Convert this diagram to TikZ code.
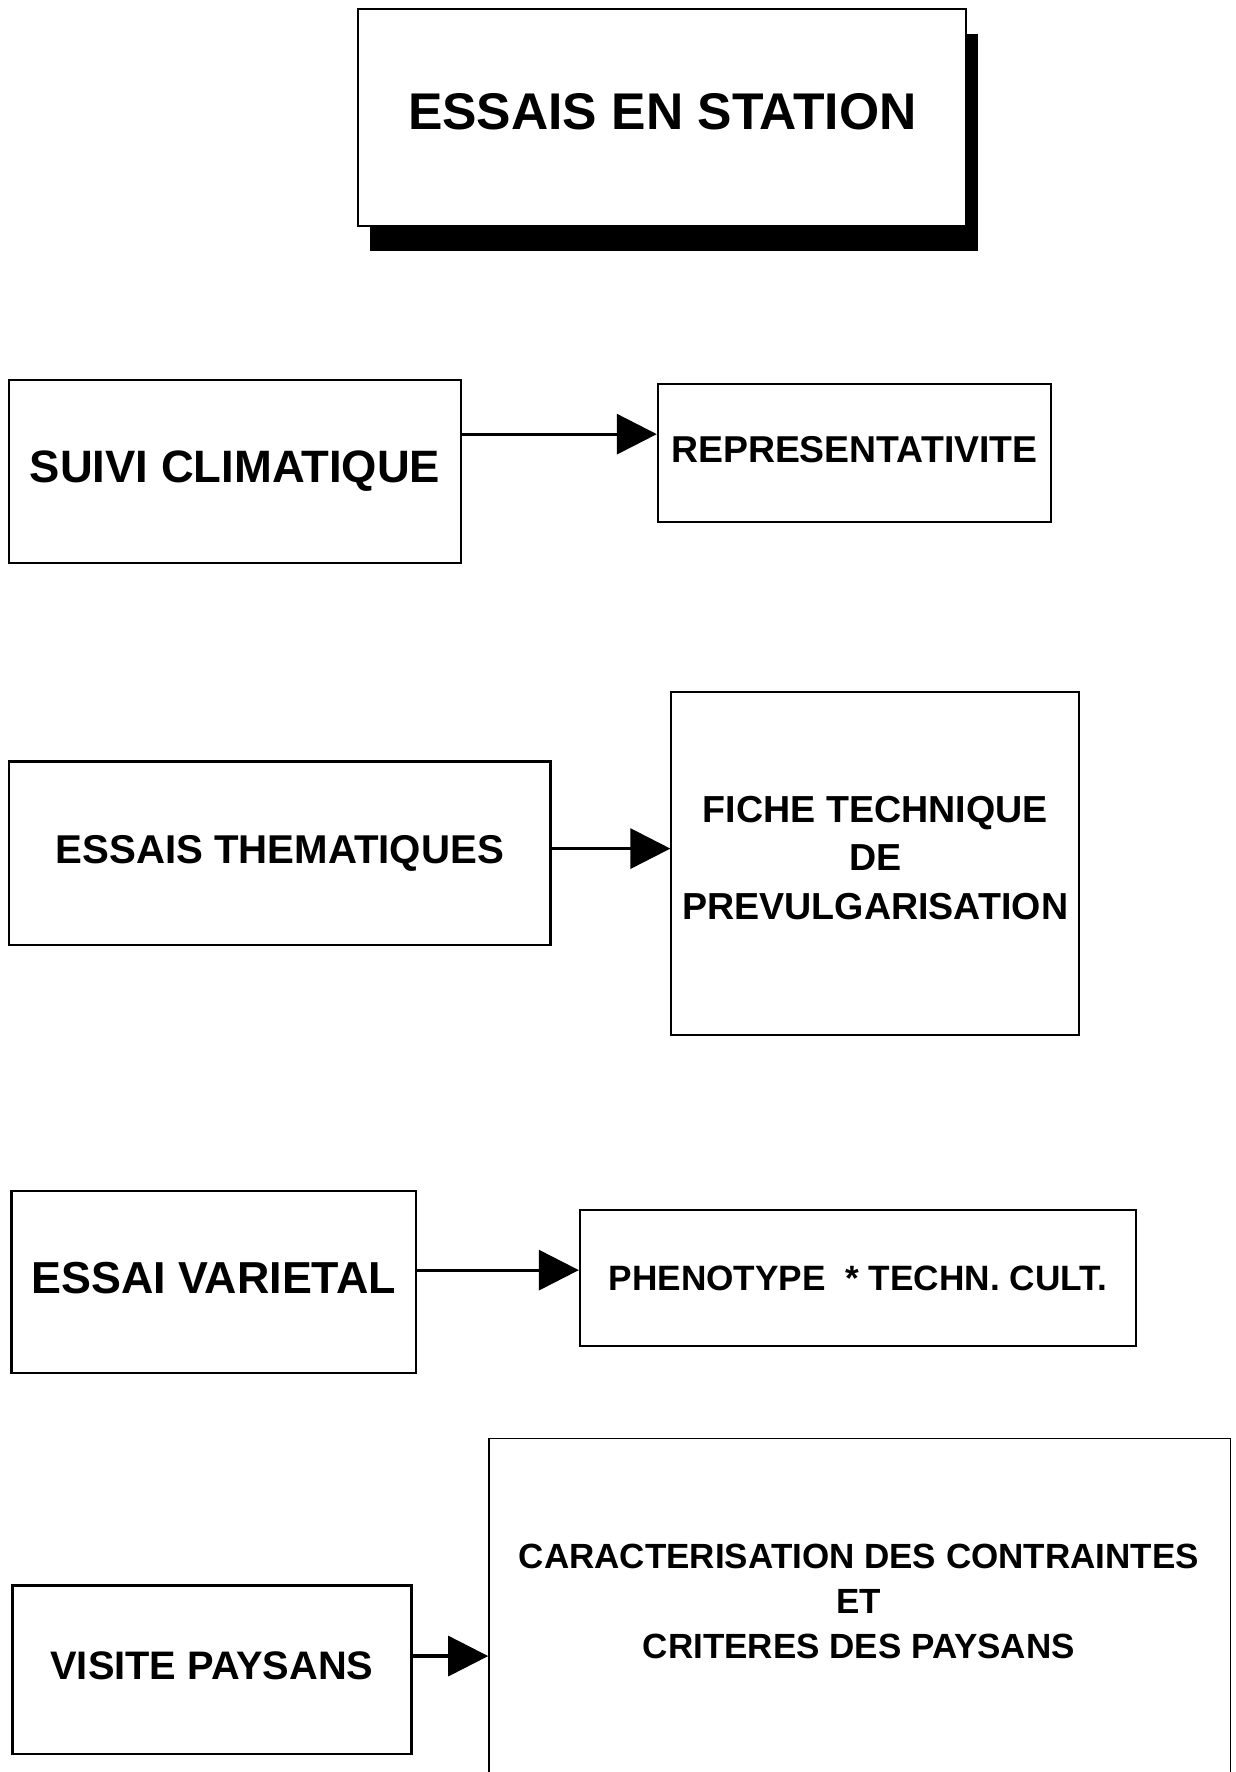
\documentclass[tikz,border=0pt]{standalone}
\usepackage{fontspec}
\setmainfont{Liberation Sans}
\usetikzlibrary{arrows.meta,shadows,calc}
\def\u{0.565pt}
\begin{document}
\begin{tikzpicture}[x=0.565pt,y=-0.565pt,
  box/.style={draw,line width=1.2pt,rectangle,inner sep=0pt,align=center},
  rbox/.style={box,line width=0.9pt},
  conn/.style={line width=1.6pt,-{Triangle[length=20pt,width=20pt]}}]
\useasboundingbox (0,0) rectangle (1093,1568);

% title
\node[box,line width=0.9pt,fill=white,minimum width=538*\u,minimum height=192*\u,text depth=11*\u,
  drop shadow={shadow xshift=5.9pt,shadow yshift=-12.4pt,fill=black,opacity=1},
  font=\bfseries\fontsize{25.8}{30}\selectfont] (title) at (586,104) {ESSAIS EN STATION};

% row 1
\node[box,minimum width=400*\u,minimum height=162*\u,font=\bfseries\fontsize{22.7}{27}\selectfont]
  (suivi) at (208,417) {SUIVI CLIMATIQUE};
\node[rbox,minimum width=348*\u,minimum height=122*\u,text depth=6*\u,font=\bfseries\fontsize{18.7}{23}\selectfont]
  (repr) at (756,401) {REPRESENTATIVITE};
\coordinate (a1) at ($(suivi.north east)!0.30!(suivi.south east)$);
\draw[conn] (a1) -- (a1 -| repr.west);

% row 2
\node[box,minimum width=479*\u,minimum height=162*\u,font=\bfseries\fontsize{20.1}{24}\selectfont]
  (them) at (247.5,755) {ESSAIS THEMATIQUES};
\node[rbox,minimum width=361*\u,minimum height=304*\u,text depth=10*\u,font=\bfseries\fontsize{18.8}{24.3}\selectfont]
  (fiche) at (774.5,764) {FICHE TECHNIQUE\\DE\\PREVULGARISATION};
\coordinate (a2) at ($(them.north east)!0.475!(them.south east)$);
\draw[conn] (a2) -- (a2 -| fiche.west);

% row 3
\node[box,minimum width=358*\u,minimum height=161*\u,text depth=8*\u,font=\bfseries\fontsize{22.4}{27}\selectfont]
  (varietal) at (189,1134.5) {ESSAI VARIETAL};
\node[rbox,minimum width=492*\u,minimum height=120*\u,font=\bfseries\fontsize{17.6}{22}\selectfont]
  (pheno) at (759,1131) {PHENOTYPE~ * TECHN. CULT.};
\coordinate (a3) at ($(varietal.north east)!0.435!(varietal.south east)$);
\draw[conn] (a3) -- (a3 -| pheno.west);

% row 4
\node[box,minimum width=353*\u,minimum height=149*\u,text depth=8*\u,font=\bfseries\fontsize{19.9}{24}\selectfont]
  (visite) at (187.5,1477.5) {VISITE PAYSANS};
\node[rbox,anchor=north west,minimum width=656*\u,minimum height=340*\u] (caracbox) at (432,1272) {};
\node[font=\bfseries\fontsize{17.5}{22.6}\selectfont,align=center,inner sep=0pt]
  (carac) at (760,1417) {CARACTERISATION DES CONTRAINTES\\ET\\CRITERES DES PAYSANS};
\coordinate (a4) at ($(visite.north east)!0.42!(visite.south east)$);
\draw[conn] (a4) -- (a4 -| caracbox.west);
\end{tikzpicture}
\end{document}
